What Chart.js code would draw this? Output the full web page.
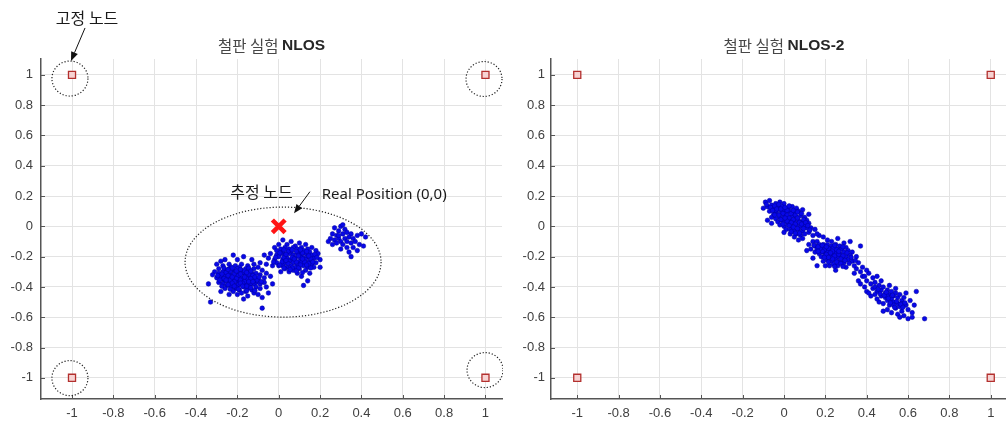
<!DOCTYPE html>
<html>
<head>
<meta charset="utf-8">
<title>철판 실험 NLOS</title>
<script src="https://cdn.jsdelivr.net/npm/chart.js@4/dist/chart.umd.min.js"></script>
<style>
  html, body { margin: 0; padding: 0; background: #fff; width: 1006px; height: 423px; overflow: hidden; }
  #wrap { position: relative; width: 1006px; height: 423px; overflow: hidden; }
  canvas { position: absolute; top: 0; display: block; }
  #c1 { left: 0; }
  #c2 { left: 510px; }
</style>
</head>
<body>
<div id="wrap">
  <canvas id="c1" width="503" height="423"></canvas>
  <canvas id="c2" width="510" height="423"></canvas>
</div>
<script>
// ---- data ----------------------------------------------------------------
// fixed anchor nodes (same for both runs)
const anchorX = [-1, 1, -1, 1];
const anchorY = [1, 1, -1, -1];

// real tag position
const realPos = [[0, 0]];

// run 1 (NLOS): estimated positions, three groups
const run1GroupA = [
  [-0.22,-0.19],[-0.17,-0.20],[-0.13,-0.22],[-0.26,-0.22],[-0.20,-0.22],[-0.09,-0.24],[-0.30,-0.25],[-0.28,-0.23],
  [-0.27,-0.26],[-0.24,-0.25],[-0.21,-0.26],[-0.18,-0.25],[-0.15,-0.26],[-0.12,-0.25],[-0.23,-0.27],[-0.19,-0.27],[-0.16,-0.28],[-0.10,-0.27],
  [-0.29,-0.28],[-0.26,-0.29],[-0.24,-0.28],[-0.22,-0.29],[-0.20,-0.28],[-0.18,-0.29],[-0.14,-0.29],[-0.12,-0.28],[-0.08,-0.29],[-0.31,-0.30],[-0.27,-0.30],[-0.21,-0.30],[-0.17,-0.31],[-0.13,-0.31],
  [-0.32,-0.32],[-0.29,-0.31],[-0.26,-0.32],[-0.24,-0.31],[-0.22,-0.32],[-0.19,-0.31],[-0.16,-0.32],[-0.14,-0.33],[-0.11,-0.31],[-0.09,-0.32],[-0.06,-0.31],[-0.28,-0.33],[-0.23,-0.33],[-0.20,-0.33],[-0.18,-0.34],[-0.12,-0.34],
  [-0.30,-0.34],[-0.27,-0.35],[-0.25,-0.34],[-0.22,-0.35],[-0.20,-0.36],[-0.17,-0.35],[-0.15,-0.36],[-0.13,-0.35],[-0.10,-0.35],[-0.07,-0.34],[-0.04,-0.33],[-0.26,-0.36],[-0.24,-0.37],[-0.19,-0.37],[-0.16,-0.38],[-0.11,-0.37],
  [-0.29,-0.37],[-0.27,-0.38],[-0.22,-0.38],[-0.20,-0.39],[-0.18,-0.38],[-0.14,-0.39],[-0.12,-0.38],[-0.09,-0.38],[-0.07,-0.37],[-0.25,-0.39],[-0.23,-0.40],[-0.17,-0.40],[-0.15,-0.41],[-0.11,-0.40],
  [-0.26,-0.41],[-0.21,-0.41],[-0.19,-0.42],[-0.16,-0.43],[-0.13,-0.42],[-0.09,-0.41],[-0.06,-0.40],[-0.22,-0.43],[-0.18,-0.44],[-0.12,-0.44],
  [-0.20,-0.45],[-0.15,-0.46],[-0.10,-0.45],[-0.24,-0.45],[-0.08,-0.47],[-0.17,-0.48],
  [-0.33,-0.50],[-0.08,-0.54],[-0.34,-0.38],[-0.03,-0.38],[-0.05,-0.44],[-0.28,-0.43],
  [-0.255,-0.305],[-0.235,-0.295],[-0.215,-0.315],[-0.195,-0.325],[-0.175,-0.305],[-0.155,-0.345],[-0.205,-0.345],[-0.185,-0.355],[-0.165,-0.365],
  [-0.145,-0.315],[-0.125,-0.325],[-0.235,-0.355],[-0.215,-0.365],[-0.195,-0.385],[-0.175,-0.375],[-0.245,-0.325],[-0.265,-0.345],[-0.285,-0.355],
  [-0.135,-0.375],[-0.105,-0.355],[-0.155,-0.395],[-0.205,-0.405],[-0.225,-0.275],[-0.185,-0.285],[-0.145,-0.275],[-0.165,-0.295],
  [-0.265,-0.275],[-0.245,-0.285],[-0.205,-0.295],[-0.155,-0.305],[-0.135,-0.295],[-0.275,-0.315],[-0.225,-0.335],[-0.185,-0.315],[-0.165,-0.335],
  [-0.135,-0.345],[-0.115,-0.335],[-0.255,-0.355],[-0.225,-0.375],[-0.185,-0.375],[-0.145,-0.365],[-0.125,-0.365],[-0.245,-0.385],[-0.215,-0.395],
  [-0.175,-0.395],[-0.135,-0.405],[-0.195,-0.415],[-0.235,-0.415],[-0.295,-0.325],[-0.095,-0.335],[-0.085,-0.365],[-0.275,-0.395],[-0.155,-0.425],[-0.115,-0.425]
];
const run1GroupB = [
  [0.02,-0.09],[0.06,-0.10],[0.10,-0.11],[0.00,-0.12],[0.04,-0.12],[0.13,-0.12],[-0.02,-0.14],[0.08,-0.13],
  [0.01,-0.15],[0.03,-0.14],[0.05,-0.15],[0.07,-0.14],[0.09,-0.15],[0.11,-0.14],[0.14,-0.15],[0.16,-0.14],[-0.01,-0.16],[0.02,-0.17],[0.06,-0.17],[0.10,-0.17],[0.12,-0.16],[0.15,-0.17],[0.18,-0.16],
  [-0.04,-0.18],[-0.01,-0.19],[0.01,-0.18],[0.03,-0.19],[0.05,-0.18],[0.07,-0.19],[0.09,-0.18],[0.11,-0.19],[0.13,-0.18],[0.16,-0.19],[0.19,-0.18],[0.00,-0.20],[0.04,-0.21],[0.08,-0.21],[0.12,-0.21],[0.14,-0.20],[0.17,-0.21],
  [-0.05,-0.21],[-0.02,-0.22],[0.02,-0.22],[0.06,-0.22],[0.10,-0.23],[0.13,-0.22],[0.15,-0.23],[0.20,-0.22],[-0.01,-0.24],[0.03,-0.24],[0.05,-0.23],[0.07,-0.24],[0.09,-0.25],[0.11,-0.24],[0.16,-0.25],[0.18,-0.24],
  [0.00,-0.26],[0.02,-0.26],[0.04,-0.27],[0.06,-0.26],[0.08,-0.27],[0.12,-0.26],[0.14,-0.27],[0.17,-0.27],[-0.03,-0.26],[0.03,-0.28],[0.07,-0.29],[0.10,-0.28],[0.13,-0.29],
  [0.05,-0.30],[0.09,-0.31],[0.15,-0.31],[0.01,-0.30],[0.11,-0.33],[0.20,-0.27],[0.12,-0.39],[0.14,-0.36],
  [-0.06,-0.25],[-0.07,-0.19],
  [0.045,-0.165],[0.085,-0.165],[0.025,-0.205],[0.065,-0.205],[0.105,-0.205],[0.045,-0.245],[0.085,-0.235],[0.125,-0.235],
  [0.015,-0.235],[0.065,-0.275],[0.105,-0.255],[0.145,-0.245],[0.035,-0.185],[0.095,-0.195],[0.155,-0.215],[0.115,-0.175],
  [0.005,-0.175],[0.025,-0.155],[0.065,-0.155],[0.105,-0.155],[0.135,-0.165],[0.175,-0.185],[-0.015,-0.205],[0.145,-0.195],[0.185,-0.205],
  [-0.025,-0.235],[0.035,-0.225],[0.075,-0.215],[0.115,-0.215],[0.165,-0.235],[0.005,-0.255],[0.025,-0.275],[0.055,-0.285],[0.095,-0.275],
  [0.135,-0.255],[0.155,-0.275],[0.085,-0.295],[0.115,-0.305]
];
const run1GroupC = [
  [0.27,-0.01],[0.30,0.00],[0.29,-0.03],[0.32,-0.02],[0.26,-0.05],[0.28,-0.06],[0.31,-0.05],[0.33,-0.04],[0.35,-0.05],
  [0.25,-0.08],[0.27,-0.09],[0.29,-0.08],[0.30,-0.10],[0.32,-0.08],[0.34,-0.07],[0.36,-0.08],[0.38,-0.06],
  [0.28,-0.11],[0.31,-0.12],[0.33,-0.10],[0.35,-0.11],[0.37,-0.10],[0.39,-0.12],[0.33,-0.14],[0.36,-0.14],
  [0.34,-0.17],[0.35,-0.20],[0.40,-0.05],[0.42,-0.07],[0.41,-0.13],[0.30,-0.15],[0.26,-0.12],[0.24,-0.10],
  [0.31,0.01],[0.38,-0.16],[0.29,-0.06]
];

// run 2 (NLOS-2): estimated positions, three groups
const run2GroupA = [
  [-0.09,0.16],[-0.07,0.17],[-0.08,0.13],[-0.10,0.12],[-0.06,0.14],[-0.04,0.15],[-0.05,0.12],[-0.03,0.13],[-0.07,0.10],[-0.02,0.16],[0.00,0.15],[-0.01,0.13],
  [-0.04,0.10],[-0.02,0.11],[0.00,0.11],[0.02,0.12],[0.04,0.13],[0.06,0.12],[-0.05,0.08],[-0.03,0.08],[-0.01,0.09],[0.01,0.09],[0.03,0.10],[0.05,0.09],[0.07,0.10],[0.09,0.11],
  [-0.06,0.06],[-0.04,0.05],[-0.02,0.06],[0.00,0.07],[0.02,0.06],[0.04,0.07],[0.06,0.06],[0.08,0.07],[0.10,0.06],
  [-0.03,0.03],[-0.01,0.04],[0.01,0.03],[0.03,0.04],[0.05,0.03],[0.07,0.04],[0.09,0.03],[0.11,0.04],
  [-0.02,0.01],[0.00,0.00],[0.02,0.01],[0.04,0.00],[0.06,0.01],[0.08,0.00],[0.10,0.01],[0.12,0.02],
  [0.01,-0.02],[0.03,-0.02],[0.05,-0.03],[0.07,-0.02],[0.09,-0.03],[0.11,-0.01],[0.13,-0.01],
  [0.03,-0.05],[0.06,-0.05],[0.08,-0.06],[0.10,-0.05],[0.12,-0.04],[0.05,-0.07],[0.09,-0.08],[0.14,-0.06],[0.07,-0.09],[0.00,-0.04],[0.15,-0.02],
  [-0.005,0.085],[0.015,0.075],[0.035,0.085],[0.055,0.075],[0.025,0.055],[0.045,0.045],[0.065,0.055],[0.015,0.035],[0.035,0.025],[0.055,0.015],
  [0.075,0.025],[0.025,0.005],[0.045,-0.005],[0.065,-0.015],[0.085,0.015],[-0.025,0.075],[-0.015,0.045],[0.005,0.055],[0.015,0.105],[0.045,0.105],
  [-0.08,0.04],[0.12,0.08],[0.16,-0.05],[-0.06,0.02],
  [-0.085,0.145],[-0.065,0.125],[-0.045,0.135],[-0.025,0.145],[-0.055,0.105],[-0.035,0.115],[-0.015,0.115],[0.005,0.125],[0.025,0.135],
  [0.065,0.095],[0.085,0.085],[-0.045,0.075],[0.095,0.045],[0.105,0.025],[-0.005,0.015],[0.115,0.005],[0.035,-0.035],[0.075,-0.045],
  [0.095,-0.015],[0.125,-0.025],[0.055,-0.045]
];
const run2GroupB = [
  [0.17,-0.06],[0.19,-0.07],[0.14,-0.10],[0.12,-0.12],[0.16,-0.10],[0.21,-0.09],[0.23,-0.10],[0.26,-0.08],[0.29,-0.11],[0.32,-0.10],
  [0.15,-0.13],[0.17,-0.12],[0.19,-0.12],[0.21,-0.12],[0.23,-0.13],[0.25,-0.12],[0.27,-0.13],
  [0.13,-0.15],[0.16,-0.15],[0.18,-0.14],[0.20,-0.15],[0.22,-0.15],[0.24,-0.14],[0.26,-0.15],[0.28,-0.15],[0.30,-0.14],
  [0.15,-0.17],[0.17,-0.18],[0.19,-0.17],[0.21,-0.17],[0.23,-0.18],[0.25,-0.17],[0.27,-0.18],[0.29,-0.17],[0.31,-0.16],[0.33,-0.17],
  [0.18,-0.20],[0.20,-0.19],[0.22,-0.20],[0.24,-0.20],[0.26,-0.20],[0.28,-0.21],[0.30,-0.20],[0.32,-0.19],[0.35,-0.20],
  [0.19,-0.23],[0.21,-0.22],[0.23,-0.23],[0.25,-0.22],[0.27,-0.23],[0.29,-0.24],[0.31,-0.22],[0.33,-0.23],[0.36,-0.24],
  [0.22,-0.26],[0.24,-0.25],[0.26,-0.26],[0.30,-0.27],[0.34,-0.26],[0.38,-0.27],[0.37,-0.30],[0.40,-0.29],[0.25,-0.29],[0.20,-0.26],[0.34,-0.31],[0.39,-0.33],
  [0.195,-0.155],[0.215,-0.145],[0.235,-0.165],[0.255,-0.155],[0.205,-0.185],[0.225,-0.175],[0.245,-0.195],[0.265,-0.185],
  [0.285,-0.195],[0.235,-0.215],[0.255,-0.235],[0.275,-0.215],[0.185,-0.165],[0.175,-0.145],[0.215,-0.205],[0.265,-0.165],
  [0.11,-0.16],[0.14,-0.21],[0.37,-0.13],[0.16,-0.26],
  [0.145,-0.125],[0.165,-0.135],[0.185,-0.125],[0.205,-0.135],[0.245,-0.125],[0.285,-0.135],[0.165,-0.165],[0.305,-0.175],[0.325,-0.205],
  [0.195,-0.205],[0.275,-0.245],[0.315,-0.245],[0.295,-0.225],[0.215,-0.235],[0.245,-0.265],[0.345,-0.225],[0.285,-0.265]
];
const run2GroupC = [
  [0.35,-0.28],[0.38,-0.33],[0.41,-0.31],[0.40,-0.36],[0.43,-0.34],[0.42,-0.38],[0.44,-0.37],[0.45,-0.33],[0.39,-0.40],[0.43,-0.41],
  [0.46,-0.39],[0.47,-0.42],[0.45,-0.43],[0.48,-0.40],[0.49,-0.44],[0.44,-0.45],[0.47,-0.46],[0.50,-0.42],[0.51,-0.45],[0.52,-0.43],
  [0.49,-0.47],[0.53,-0.46],[0.54,-0.44],[0.50,-0.49],[0.52,-0.48],[0.55,-0.47],[0.56,-0.45],[0.48,-0.51],[0.53,-0.50],[0.55,-0.51],
  [0.57,-0.49],[0.58,-0.47],[0.51,-0.52],[0.54,-0.54],[0.56,-0.53],[0.59,-0.52],[0.57,-0.56],[0.60,-0.55],[0.52,-0.57],[0.55,-0.58],
  [0.58,-0.59],[0.62,-0.57],[0.61,-0.49],[0.63,-0.52],[0.50,-0.55],[0.46,-0.50],[0.42,-0.46],[0.40,-0.43],[0.64,-0.43],[0.68,-0.61],
  [0.60,-0.61],[0.56,-0.60],[0.47,-0.36],[0.51,-0.39],[0.36,-0.36],[0.48,-0.56],[0.54,-0.41],[0.59,-0.44],[0.45,-0.48],[0.50,-0.46],
  [0.53,-0.52],[0.57,-0.51],[0.37,-0.38],[0.41,-0.44],[0.44,-0.40],[0.62,-0.60],
  [0.465,-0.445],[0.485,-0.455],[0.505,-0.475],[0.525,-0.455],[0.545,-0.495],[0.515,-0.505],[0.565,-0.515],[0.535,-0.535],
  [0.575,-0.535],[0.495,-0.435],[0.455,-0.415],[0.585,-0.505]
];

// axis ticks
const tickValues = [-1, -0.8, -0.6, -0.4, -0.2, 0, 0.2, 0.4, 0.6, 0.8, 1];
const tickLabels = ['-1', '-0.8', '-0.6', '-0.4', '-0.2', '0', '0.2', '0.4', '0.6', '0.8', '1'];

// ---- styling ---------------------------------------------------------------
const LATIN = '"Liberation Sans", Arial, Helvetica, sans-serif';
const HANGUL = '"Noto Sans CJK KR", "Noto Sans", sans-serif';
const toXY = pts => pts.map(([x, y]) => ({ x, y }));

function estimateSet(pts) {
  return {
    data: toXY(pts),
    pointStyle: 'circle',
    pointRadius: 2.3,
    pointBackgroundColor: '#0808e8',
    pointBorderColor: '#00009a',
    pointBorderWidth: 0.5
  };
}
function anchorSet() {
  return {
    data: anchorX.map((x, i) => ({ x, y: anchorY[i] })),
    pointStyle: 'rect',
    pointRadius: 5,
    pointBackgroundColor: '#f7d3d3',
    pointBorderColor: '#b3302e',
    pointBorderWidth: 1.3
  };
}
function realSet() {
  return {
    data: toXY(realPos),
    pointStyle: 'crossRot',
    pointRadius: 9,
    pointBorderColor: '#ff1414',
    pointBorderWidth: 4.5
  };
}

// ---- overlay: inner ticks, title, callouts ---------------------------------
function drawArrow(ctx, x1, y1, x2, y2) {
  const ang = Math.atan2(y2 - y1, x2 - x1);
  const L = 9, W = 3.6;
  const bx = x2 - L * Math.cos(ang), by = y2 - L * Math.sin(ang);
  ctx.beginPath(); ctx.moveTo(x1, y1); ctx.lineTo(bx, by); ctx.stroke();
  ctx.beginPath();
  ctx.moveTo(x2, y2);
  ctx.lineTo(bx + W * Math.sin(ang), by - W * Math.cos(ang));
  ctx.lineTo(bx - W * Math.sin(ang), by + W * Math.cos(ang));
  ctx.closePath(); ctx.fill();
}

function overlay(cfg) {
  return {
    id: 'overlay',
    afterDraw(chart) {
      const { ctx, chartArea: a, scales } = chart;
      const sx = scales.x, sy = scales.y;
      const px = v => sx.getPixelForValue(v);
      const py = v => sy.getPixelForValue(v);
      ctx.save();

      // short tick marks pointing into the plot
      ctx.strokeStyle = '#555'; ctx.lineWidth = 1;
      tickValues.forEach(v => {
        const x = Math.round(px(v)) + 0.5;
        if (x >= a.left && x <= a.right) {
          ctx.beginPath(); ctx.moveTo(x, a.bottom); ctx.lineTo(x, a.bottom - 4); ctx.stroke();
        }
        const y = Math.round(py(v)) + 0.5;
        ctx.beginPath(); ctx.moveTo(a.left, y); ctx.lineTo(a.left + 4, y); ctx.stroke();
      });

      // title: Hangul part + bold Latin part, centred over the plot
      const fKo = '15.5px ' + HANGUL, fEn = 'bold 15.5px ' + LATIN;
      ctx.textBaseline = 'middle'; ctx.textAlign = 'left';
      ctx.font = fKo; const w1 = ctx.measureText(cfg.titleKo).width;
      ctx.font = fEn; const w2 = ctx.measureText(cfg.titleEn).width;
      const tx = (a.left + a.right) / 2 - (w1 + w2) / 2;
      ctx.font = fKo; ctx.fillStyle = '#474747'; ctx.fillText(cfg.titleKo, tx, 46);
      ctx.font = fEn; ctx.fillStyle = '#262626'; ctx.fillText(cfg.titleEn, tx + w1, 46);

      // dotted rings and ellipse
      ctx.strokeStyle = '#222'; ctx.lineWidth = 1.2; ctx.setLineDash([1.2, 1.9]);
      (cfg.rings || []).forEach(r => {
        ctx.beginPath(); ctx.ellipse(px(r.x), py(r.y), r.rx, r.ry, 0, 0, Math.PI * 2); ctx.stroke();
      });
      ctx.setLineDash([]);

      // arrows
      ctx.strokeStyle = '#111'; ctx.fillStyle = '#111'; ctx.lineWidth = 1;
      (cfg.arrows || []).forEach(ar => drawArrow(ctx, px(ar.x1), py(ar.y1), px(ar.x2), py(ar.y2)));

      // callout labels
      (cfg.labels || []).forEach(l => {
        ctx.font = l.font; ctx.fillStyle = '#1a1a1a';
        ctx.textAlign = l.align; ctx.textBaseline = 'middle';
        ctx.fillText(l.text, px(l.x), py(l.y));
      });
      ctx.restore();
    }
  };
}

// ---- chart factory ---------------------------------------------------------
function axis(min, max, isY, pad) {
  return {
    type: 'linear', min, max,
    afterBuildTicks: s => { s.ticks = tickValues.map(v => ({ value: v })); },
    afterFit: s => {
      if (isY) s.width = 41; else s.height = 24;
      s.paddingLeft = 0; s.paddingRight = 0; s.paddingTop = 0; s.paddingBottom = 0;
    },
    grid: { color: '#e3e3e3', lineWidth: 1, drawTicks: false },
    border: { display: true, color: '#555', width: 1.5 },
    ticks: {
      padding: pad, color: '#404040', autoSkip: false, maxRotation: 0,
      font: { family: LATIN, size: 13 },
      callback: (v, i) => tickLabels[i]
    }
  };
}

function build(id, datasets, xMin, xMax, padRight, yPad, cfg) {
  return new Chart(document.getElementById(id), {
    type: 'scatter',
    data: { datasets },
    options: {
      responsive: false, animation: false, events: [],
      // plot box fixed by the padding below; no extra room for marker overflow
      layout: { autoPadding: false, padding: { top: 59, right: padRight, left: 0, bottom: 0 } },
      plugins: { legend: { display: false }, tooltip: { enabled: false }, title: { display: false } },
      scales: { x: axis(xMin, xMax, false, 7), y: axis(-1.14, 1.105, true, yPad) }
    },
    plugins: [overlay(cfg)]
  });
}

build('c1',
  [estimateSet(run1GroupA), estimateSet(run1GroupB), estimateSet(run1GroupC), realSet(), anchorSet()],
  -1.15, 1.08, 1, 8,
  {
    titleKo: '철판 실험 ', titleEn: 'NLOS',
    rings: [
      { x: -1.01, y: 0.976, rx: 18, ry: 17.5 },
      { x: 0.993, y: 0.973, rx: 18, ry: 17.5 },
      { x: -1.01, y: -1.002, rx: 18, ry: 17.5 },
      { x: 0.998, y: -0.949, rx: 18, ry: 17.5 },
      { x: 0.021, y: -0.236, rx: 98, ry: 55 }
    ],
    arrows: [
      { x1: -0.937, y1: 1.31, x2: -1.005, y2: 1.092 },
      { x1: 0.151, y1: 0.229, x2: 0.074, y2: 0.086 }
    ],
    labels: [
      { text: '고정 노드', x: -0.927, y: 1.379, align: 'center', font: '16px ' + HANGUL },
      { text: '추정 노드', x: -0.083, y: 0.23, align: 'center', font: '16px ' + HANGUL },
      { text: 'Real Position (0,0)', x: 0.208, y: 0.207, align: 'left', font: '15px "Noto Sans", ' + LATIN }
    ]
  });

build('c2',
  [estimateSet(run2GroupA), estimateSet(run2GroupB), estimateSet(run2GroupC), anchorSet()],
  -1.127, 1.127, 3, 6,
  { titleKo: '철판 실험 ', titleEn: 'NLOS-2' });
</script>
</body>
</html>
